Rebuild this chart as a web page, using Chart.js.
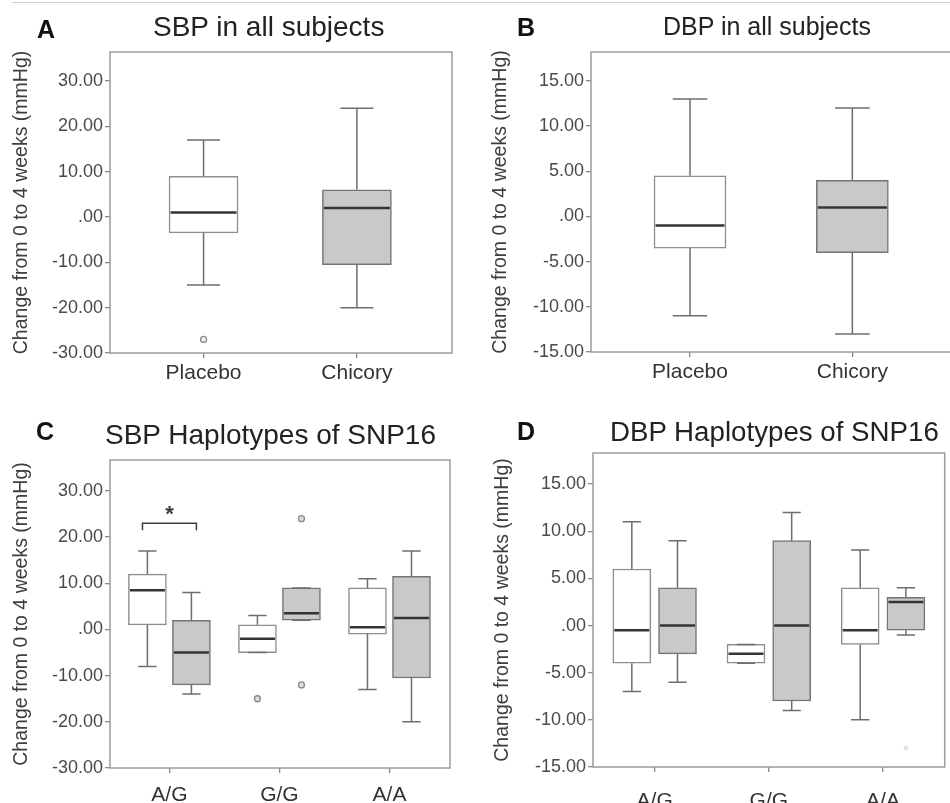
<!DOCTYPE html>
<html>
<head>
<meta charset="utf-8">
<script src="https://cdn.jsdelivr.net/npm/chart.js@4.4.0/dist/chart.umd.min.js"></script>
<style>
  html, body { margin: 0; padding: 0; background: #fff; }
  body { width: 950px; height: 803px; position: relative; overflow: hidden;
         font-family: "Liberation Sans", Arial, Helvetica, sans-serif; }
  .panel { position: absolute; }
  .panel canvas { display: block; }
  .letter, .title { position: absolute; white-space: nowrap; line-height: 1; }
  .letter { font-weight: bold; font-size: 25px; color: #111; }
  .title { color: #222; }
  #topline { position: absolute; left: 12px; right: 0; top: 2px; border-top: 1.5px solid #cfcfcf; }
</style>
</head>
<body>
<div id="topline"></div>

<div class="panel" style="left:0;top:0"><canvas id="chartA" width="475" height="400"></canvas></div>
<div class="panel" style="left:475px;top:0"><canvas id="chartB" width="490" height="400"></canvas></div>
<div class="panel" style="left:0;top:400px"><canvas id="chartC" width="475" height="403"></canvas></div>
<div class="panel" style="left:475px;top:400px"><canvas id="chartD" width="475" height="403"></canvas></div>

<div class="letter" style="left:37px;top:17px">A</div>
<div class="title" style="left:153px;top:13px;font-size:28px">SBP in all subjects</div>
<div class="letter" style="left:517px;top:15px">B</div>
<div class="title" style="left:663px;top:14px;font-size:25px">DBP in all subjects</div>
<div class="letter" style="left:36px;top:419px">C</div>
<div class="title" style="left:105px;top:421px;font-size:28px">SBP Haplotypes of SNP16</div>
<div class="letter" style="left:517px;top:419px">D</div>
<div class="title" style="left:610px;top:418px;font-size:27.7px">DBP Haplotypes of SNP16</div>

<script>
Chart.defaults.font.family = '"Liberation Sans", Arial, Helvetica, sans-serif';
Chart.defaults.animation = false;

const Y_TITLE = 'Change from 0 to 4 weeks (mmHg)';
const SBP_TICKS = [-30, -20, -10, 0, 10, 20, 30];
const DBP_TICKS = [-15, -10, -5, 0, 5, 10, 15];

// A / B: all subjects
const TREATMENTS = ['Placebo', 'Chicory'];

const SBP_ALL_MIN = [-15, -20];
const SBP_ALL_Q1 = [-3.5, -10.5];
const SBP_ALL_MED = [1, 2];
const SBP_ALL_Q3 = [9, 6];
const SBP_ALL_MAX = [17, 24];
const SBP_ALL_OUT = [[-27], []];

const DBP_ALL_MIN = [-11, -13];
const DBP_ALL_Q1 = [-3.5, -4];
const DBP_ALL_MED = [-1, 1];
const DBP_ALL_Q3 = [4.5, 4];
const DBP_ALL_MAX = [13, 12];
const DBP_ALL_OUT = [[], []];

// C / D: haplotypes of SNP16 (placebo = white, chicory = grey)
const HAPLOTYPES = ['A/G', 'G/G', 'A/A'];

const SBP_PLA_MIN = [-8, -5, -13];
const SBP_PLA_Q1 = [1, -5, -1];
const SBP_PLA_MED = [8.5, -2, 0.5];
const SBP_PLA_Q3 = [12, 1, 9];
const SBP_PLA_MAX = [17, 3, 11];
const SBP_PLA_OUT = [[], [-15], []];

const SBP_CHI_MIN = [-14, 2, -20];
const SBP_CHI_Q1 = [-12, 2, -10.5];
const SBP_CHI_MED = [-5, 3.5, 2.5];
const SBP_CHI_Q3 = [2, 9, 11.5];
const SBP_CHI_MAX = [8, 9, 17];
const SBP_CHI_OUT = [[], [24, -12], []];

const SBP_HAP_SIG = [{ cat: 1, y: 23, mark: '*' }];

const DBP_PLA_MIN = [-7, -4, -10];
const DBP_PLA_Q1 = [-4, -4, -2];
const DBP_PLA_MED = [-0.5, -3, -0.5];
const DBP_PLA_Q3 = [6, -2, 4];
const DBP_PLA_MAX = [11, -2, 8];
const DBP_PLA_OUT = [[], [], []];

const DBP_CHI_MIN = [-6, -9, -1];
const DBP_CHI_Q1 = [-3, -8, -0.5];
const DBP_CHI_MED = [0, 0, 2.5];
const DBP_CHI_Q3 = [4, 9, 3];
const DBP_CHI_MAX = [9, 12, 4];
const DBP_CHI_OUT = [[], [], [-13]];

const WHITE = '#ffffff';
const GREY = '#c9c9c9';
const WHITE_EDGE = '#8e8e8e';
const GREY_EDGE = '#747474';

function fmtTick(v) {
  return v === 0 ? '.00' : v.toFixed(2);
}

// draws frame, whiskers, medians and significance brackets through the scales
const boxPlotPlugin = {
  id: 'boxPlot',
  beforeDatasetsDraw(chart, args, opts) {
    const { ctx, chartArea: a } = chart;
    ctx.save();
    ctx.strokeStyle = opts.frameColor;
    ctx.lineWidth = opts.frameWidth;
    ctx.strokeRect(a.left, a.top, a.right - a.left, a.bottom - a.top);
    ctx.restore();
  },
  afterDatasetsDraw(chart, args, opts) {
    const { ctx } = chart;
    const ys = chart.scales.y;
    const xs = chart.scales.x;
    ctx.save();
    chart.data.datasets.forEach((ds, di) => {
      if (!ds.stats) return;
      chart.getDatasetMeta(di).data.forEach((bar, i) => {
        const { x, width } = bar.getProps(['x', 'width'], true);
        const half = width / 2;
        const cap = width * opts.capRatio / 2;
        const [q1, q3] = ds.data[i].y;
        const pQ1 = ys.getPixelForValue(q1);
        const pQ3 = ys.getPixelForValue(q3);
        const pMin = ys.getPixelForValue(ds.stats.min[i]);
        const pMax = ys.getPixelForValue(ds.stats.max[i]);
        const pMed = ys.getPixelForValue(ds.stats.med[i]);

        ctx.strokeStyle = opts.whiskerColor;
        ctx.lineWidth = opts.whiskerWidth;
        ctx.beginPath();
        ctx.moveTo(x, pQ3); ctx.lineTo(x, pMax);
        ctx.moveTo(x - cap, pMax); ctx.lineTo(x + cap, pMax);
        ctx.moveTo(x, pQ1); ctx.lineTo(x, pMin);
        ctx.moveTo(x - cap, pMin); ctx.lineTo(x + cap, pMin);
        ctx.stroke();

        ctx.strokeStyle = opts.medianColor;
        ctx.lineWidth = opts.medianWidth;
        ctx.beginPath();
        ctx.moveTo(x - half + 1.5, pMed); ctx.lineTo(x + half - 1.5, pMed);
        ctx.stroke();
      });
    });

    (opts.brackets || []).forEach(b => {
      const x0 = xs.getPixelForValue(b.cat - opts.bracketHalf);
      const x1 = xs.getPixelForValue(b.cat + opts.bracketHalf);
      const yb = ys.getPixelForValue(b.y);
      ctx.strokeStyle = opts.bracketColor;
      ctx.lineWidth = 1.5;
      ctx.beginPath();
      ctx.moveTo(x0, yb + opts.bracketLeg); ctx.lineTo(x0, yb);
      ctx.lineTo(x1, yb); ctx.lineTo(x1, yb + opts.bracketLeg);
      ctx.stroke();
      ctx.fillStyle = opts.bracketColor;
      ctx.font = 'bold 22px "Liberation Sans", Arial, sans-serif';
      ctx.textAlign = 'center';
      ctx.textBaseline = 'alphabetic';
      ctx.fillText(b.mark, xs.getPixelForValue(b.cat), yb - 2);
    });
    ctx.restore();
  }
};

function boxDatasets(series, cats) {
  const sets = [];
  series.forEach(s => {
    sets.push({
      type: 'bar',
      label: s.label,
      data: cats.map((c, i) => ({ x: i + 1 + s.shift, y: [s.q1[i], s.q3[i]] })),
      stats: { min: s.min, med: s.med, max: s.max },
      backgroundColor: s.fill,
      borderColor: s.edge,
      borderWidth: 1.5,
      borderSkipped: false,
      grouped: false,
      barThickness: s.width,
      order: 2
    });
    const pts = [];
    s.out.forEach((vals, i) => vals.forEach(v => pts.push({ x: i + 1 + s.shift, y: v })));
    if (pts.length) {
      sets.push({
        type: 'scatter',
        label: s.label + ' outliers',
        data: pts,
        pointRadius: s.outRadius || 3,
        pointBorderWidth: 1.3,
        pointBorderColor: s.outEdge || '#8a8a8a',
        pointBackgroundColor: s.outFill || '#dcdcdc',
        order: 1
      });
    }
  });
  return sets;
}

function makeChart(id, p) {
  return new Chart(document.getElementById(id), {
    type: 'bar',
    data: { datasets: boxDatasets(p.series, p.cats) },
    plugins: [boxPlotPlugin],
    options: {
      responsive: false,
      animation: false,
      layout: { padding: p.pad },
      plugins: {
        legend: { display: false },
        tooltip: { enabled: false },
        boxPlot: {
          frameColor: '#9c9c9c', frameWidth: 1.5,
          whiskerColor: '#6e6e6e', whiskerWidth: 1.5,
          medianColor: '#343434', medianWidth: 2.5,
          capRatio: 0.48,
          brackets: p.brackets || [],
          bracketHalf: 0.245, bracketLeg: 7, bracketColor: '#3c3c3c'
        }
      },
      scales: {
        x: {
          type: 'linear',
          min: p.xMin, max: p.xMax,
          offset: false,
          afterBuildTicks: s => { s.ticks = p.cats.map((c, i) => ({ value: i + 1 })); },
          afterFit: s => { s.height = p.xHeight; },
          ticks: {
            callback: v => p.cats[v - 1],
            font: { size: 21 },
            color: '#333',
            padding: p.xPad,
            maxRotation: 0,
            autoSkip: false
          },
          grid: { display: true, offset: false, drawOnChartArea: false, tickLength: 5, color: '#8a8a8a', lineWidth: 1.3 },
          border: { display: false }
        },
        y: {
          type: 'linear',
          min: p.yMin, max: p.yMax,
          afterBuildTicks: s => { s.ticks = p.yTicks.map(v => ({ value: v })); },
          afterFit: s => { s.width = p.yWidth; },
          ticks: { callback: v => fmtTick(v), font: { size: 18 }, color: '#4a4a4a', padding: 2 },
          grid: { display: true, drawOnChartArea: false, tickLength: 5, color: '#8a8a8a', lineWidth: 1.3 },
          border: { display: false },
          title: {
            display: true, text: Y_TITLE, color: '#3e3e3e',
            font: { size: 19.5 }, padding: { top: p.titlePad, bottom: 0 }
          }
        }
      }
    }
  });
}

makeChart('chartA', {
  cats: TREATMENTS,
  series: [{
    label: 'SBP all subjects', shift: 0, width: 69,
    min: SBP_ALL_MIN, q1: SBP_ALL_Q1, med: SBP_ALL_MED, q3: SBP_ALL_Q3, max: SBP_ALL_MAX,
    out: SBP_ALL_OUT, fill: [WHITE, GREY], edge: [WHITE_EDGE, GREY_EDGE], outFill: '#f2f2f2'
  }],
  pad: { left: 0, top: 52, right: 23, bottom: 0 },
  yWidth: 110, xHeight: 47, xPad: 3, titlePad: 10,
  xMin: 0.39, xMax: 2.62, yMin: -30, yMax: 36.4, yTicks: SBP_TICKS
});

makeChart('chartB', {
  cats: TREATMENTS,
  series: [{
    label: 'DBP all subjects', shift: 0, width: 72,
    min: DBP_ALL_MIN, q1: DBP_ALL_Q1, med: DBP_ALL_MED, q3: DBP_ALL_Q3, max: DBP_ALL_MAX,
    out: DBP_ALL_OUT, fill: [WHITE, GREY], edge: [WHITE_EDGE, GREY_EDGE]
  }],
  pad: { left: 0, top: 52, right: 12, bottom: 0 },
  yWidth: 116, xHeight: 48, xPad: 3, titlePad: 14,
  xMin: 0.39, xMax: 2.62, yMin: -15, yMax: 18.2, yTicks: DBP_TICKS
});

makeChart('chartC', {
  cats: HAPLOTYPES,
  series: [{
    label: 'Placebo', shift: -0.2, width: 38,
    min: SBP_PLA_MIN, q1: SBP_PLA_Q1, med: SBP_PLA_MED, q3: SBP_PLA_Q3, max: SBP_PLA_MAX,
    out: SBP_PLA_OUT, fill: WHITE, edge: WHITE_EDGE
  }, {
    label: 'Chicory', shift: 0.2, width: 38,
    min: SBP_CHI_MIN, q1: SBP_CHI_Q1, med: SBP_CHI_MED, q3: SBP_CHI_Q3, max: SBP_CHI_MAX,
    out: SBP_CHI_OUT, fill: GREY, edge: GREY_EDGE
  }],
  brackets: SBP_HAP_SIG,
  pad: { left: 0, top: 60, right: 25, bottom: 0 },
  yWidth: 110, xHeight: 35, xPad: 10, titlePad: 10,
  xMin: 0.46, xMax: 3.55, yMin: -30, yMax: 36.7, yTicks: SBP_TICKS
});

makeChart('chartD', {
  cats: HAPLOTYPES,
  series: [{
    label: 'Placebo', shift: -0.2, width: 38,
    min: DBP_PLA_MIN, q1: DBP_PLA_Q1, med: DBP_PLA_MED, q3: DBP_PLA_Q3, max: DBP_PLA_MAX,
    out: DBP_PLA_OUT, fill: WHITE, edge: WHITE_EDGE
  }, {
    label: 'Chicory', shift: 0.2, width: 38,
    min: DBP_CHI_MIN, q1: DBP_CHI_Q1, med: DBP_CHI_MED, q3: DBP_CHI_Q3, max: DBP_CHI_MAX,
    out: DBP_CHI_OUT, fill: GREY, edge: GREY_EDGE,
    outFill: '#eeeeee', outEdge: '#dddddd', outRadius: 1.8
  }],
  pad: { left: 0, top: 53, right: 2, bottom: 0 },
  yWidth: 118, xHeight: 36, xPad: 17, titlePad: 16,
  xMin: 0.46, xMax: 3.54, yMin: -15, yMax: 18.3, yTicks: DBP_TICKS
});
</script>
</body>
</html>
